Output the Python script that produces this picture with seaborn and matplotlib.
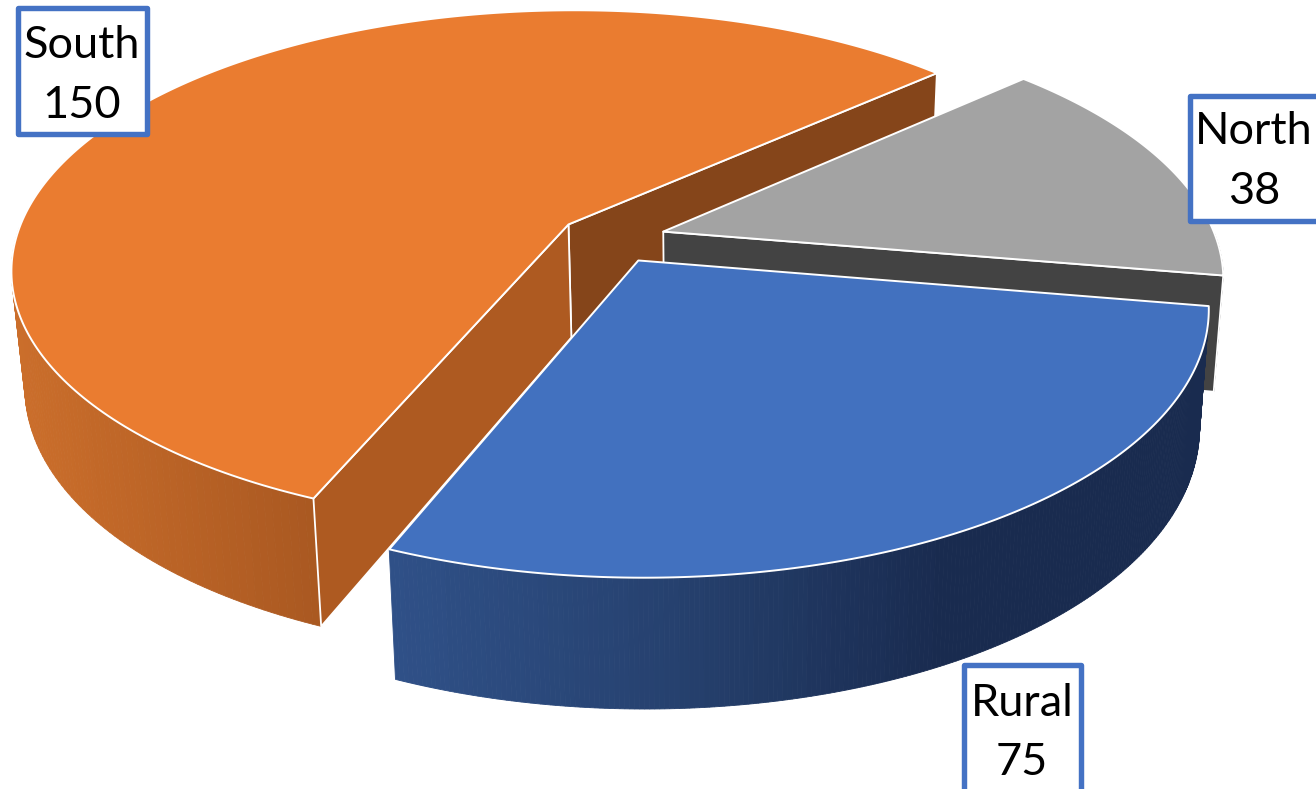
"""Camembert 3D eclate : South / Rural / North"""
import numpy as np
import matplotlib.pyplot as plt
from matplotlib.patches import Polygon, Rectangle
import seaborn as sns

# les donnees
regions = ["South", "Rural", "North"]
counts = [150, 75, 38]

# couleurs : dessus, face de debut, face de fin, degrade du mur (gauche -> droite)
top_colors = ["#EA7C30", "#4271BF", "#A3A3A3"]
start_face_colors = ["#85451A", "#1D3157", "#434343"]
end_face_colors = ["#AE5A21", "#2F5087", "#434343"]
wall_stops = [["#CB6E2B", "#A95821"], ["#2F5087", "#26416F", "#192B4F", "#192B4F"], ["#434343", "#434343"]]

# boites des etiquettes (gauche, haut, droite, bas) et centre du texte
label_boxes = [(17.5, 8, 147, 133.5), (963.5, 664.5, 1080.5, 800), (1189.5, 95.5, 1330, 220.5)]
label_centers = [(82, 75.5), (1022, 733), (1254, 161.5)]

START_ANGLE = 42.3
EXPLODE = 0.097
ORIGIN = (612, 238.5)
RX, RY, PERSP = 553, 255, 0.17
DEPTH = 114


def project(u, v, z=0.0):
    """Plan du camembert vers pixels, avec perspective. z = 1 pour la face du bas."""
    s = 1 / (1 + PERSP * v)
    x = ORIGIN[0] + RX * u * s
    y = ORIGIN[1] - RY * v * s
    y = y + z * DEPTH * (1 - 0.14 * v)
    x = x - (x - 720) * 0.019 * z
    return np.column_stack([x, y])


def draw_slice(ax, a0, a1, top, face0, face1, stops):
    mid = np.radians((a0 + a1) / 2)
    cu, cv = EXPLODE * np.cos(mid), EXPLODE * np.sin(mid)
    angles = np.radians(np.linspace(a0, a1, 240))
    au, av = cu + np.cos(angles), cv + np.sin(angles)
    apex_top = project(cu, cv)
    apex_bot = project(cu, cv, 1)

    # le mur exterieur : seulement la partie tournee vers nous
    front = np.sin(angles) < 0
    if front.any():
        fu, fv = au[front], av[front]
        top_rim = project(fu, fv)
        bot_rim = project(fu, fv, 1)
        x_min, x_max = top_rim[:, 0].min(), top_rim[:, 0].max()
        palette = sns.blend_palette(stops, 64)
        for j in range(len(fu) - 1):
            pos = (top_rim[j, 0] - x_min) / (x_max - x_min)
            color = palette[int(pos * 63)]
            quad = np.vstack([top_rim[j], top_rim[j + 1], bot_rim[j + 1], bot_rim[j]])
            ax.add_patch(Polygon(quad, closed=True, fc=color, ec=color, lw=0.6))

    # les faces radiales, seulement celles qu'on voit
    normals = (np.radians(a0 - 90), np.radians(a1 + 90))
    for i, color, normal in ((0, face0, normals[0]), (-1, face1, normals[1])):
        if np.sin(normal) >= 0:
            continue
        rim_top = project(au[[i]], av[[i]])
        rim_bot = project(au[[i]], av[[i]], 1)
        pts = np.vstack([apex_top, rim_top, rim_bot, apex_bot])
        ax.add_patch(Polygon(pts, closed=True, fc=color, ec="white", lw=1.3, joinstyle="round"))

    # le dessus
    pts = np.vstack([apex_top, project(au, av)])
    ax.add_patch(Polygon(pts, closed=True, fc=top, ec="white", lw=1.4, joinstyle="round"))


sns.set_theme(style="white")
plt.rcParams["font.family"] = ["Lato", "DejaVu Sans"]

fig, ax = plt.subplots(figsize=(13.16, 7.89), dpi=100)
fig.subplots_adjust(0, 0, 1, 1)
ax.set_xlim(0, 1316)
ax.set_ylim(789, 0)
ax.axis("off")

# angles des parts a partir des valeurs
spans = 360 * np.array(counts) / np.sum(counts)
ends = START_ANGLE + np.cumsum(spans)
starts = ends - spans

# ordre de dessin : du fond vers l'avant
for idx in (0, 2, 1):
    draw_slice(ax, starts[idx], ends[idx], top_colors[idx], start_face_colors[idx],
               end_face_colors[idx], wall_stops[idx])

for name, value, box, center in zip(regions, counts, label_boxes, label_centers):
    left, upper, right, lower = box
    ax.add_patch(Rectangle((left, upper), right - left, lower - upper, fc="white", ec="#4472C4",
                           lw=3.9, joinstyle="round", zorder=5))
    ax.text(center[0], center[1], f"{name}\n{value}", ha="center", va="center", fontsize=32.5,
            color="black", linespacing=1.55, zorder=6)

fig.savefig("out.png", dpi=100)
